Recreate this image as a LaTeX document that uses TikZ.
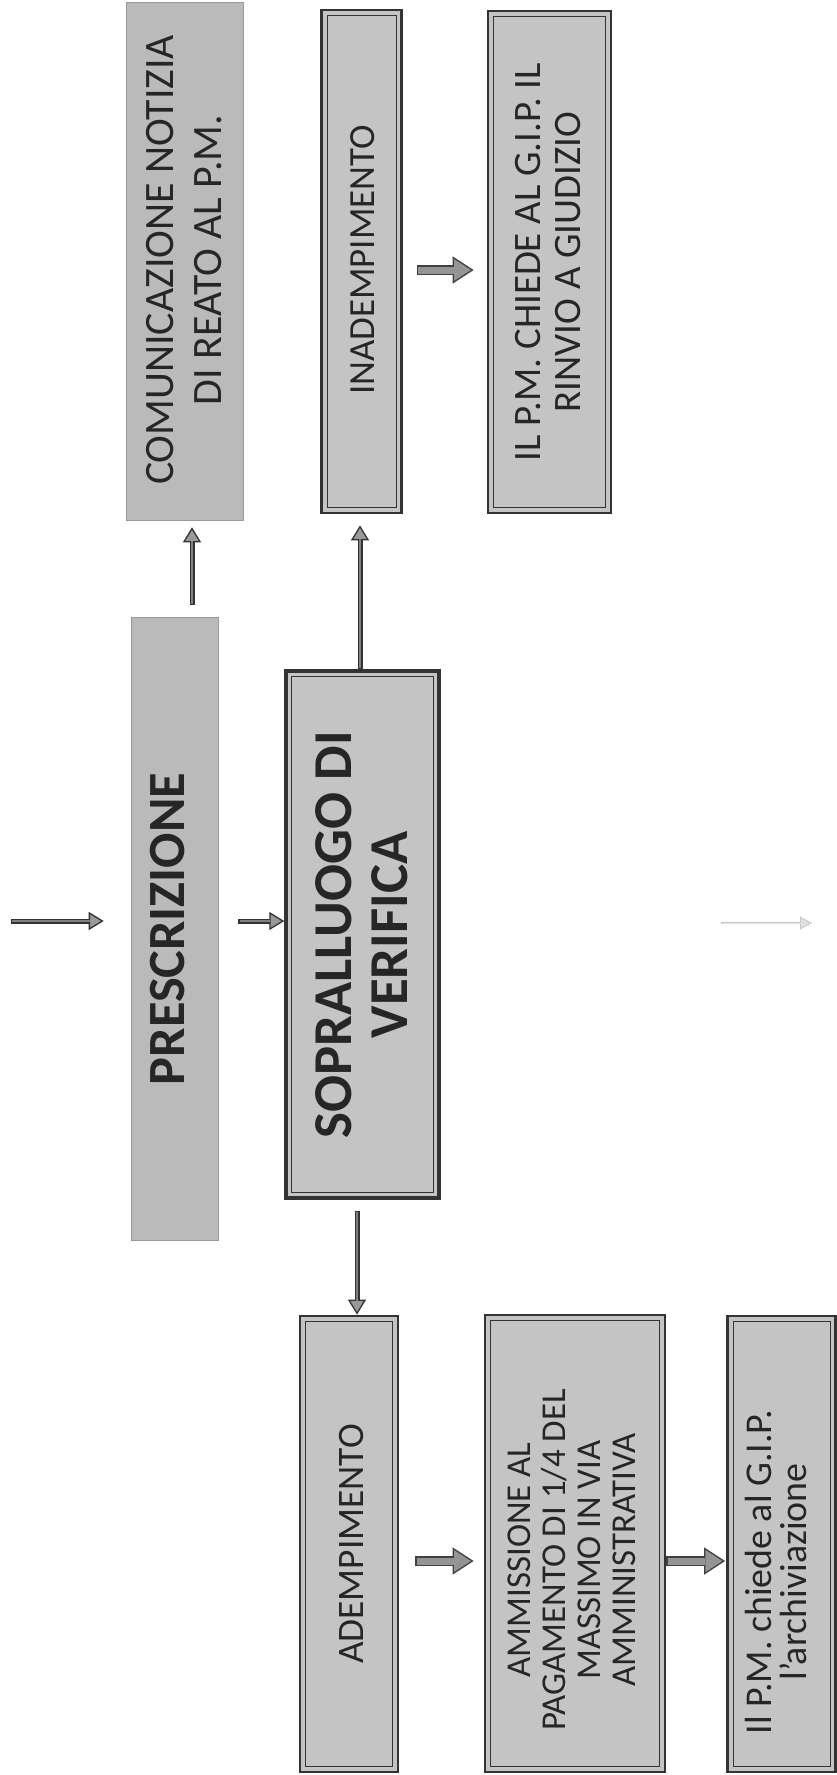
\documentclass[tikz,border=0pt]{standalone}
\usepackage{fontspec}
\setmainfont{Carlito}
\usetikzlibrary{arrows.meta,calc}
\newcommand{\garrow}[6]{%
  \draw[#1out, shorten <=#2, shorten >=#3] #5 -- #6;
  \draw[#1in, shorten <=#2+1.2bp, shorten >=#3+#4-1bp] #5 -- #6;}
\begin{document}
\begin{tikzpicture}[x=1bp,y=-1bp,
  pbox/.style={draw=black!40, line width=0.6bp, fill=black!27, inner sep=0pt},
  dbox/.style={draw=black!80, line width=2.8bp, fill=black!23, inner sep=0pt,
    path picture={\draw[black!80, line width=1bp]
      ([shift={(5.5bp,5.5bp)}]path picture bounding box.south west) rectangle
      ([shift={(-5.5bp,-5.5bp)}]path picture bounding box.north east);}},
  txt/.style={rotate=90, align=center, text=black!85, inner sep=0pt},
  sout/.style={draw=black!80, line width=5bp,
    -{Triangle[length=15bp,width=18bp,fill=black!40,line width=1.3bp]}},
  sin/.style={draw=black!50, line width=1.6bp},
  bout/.style={draw=black!75, line width=10bp,
    -{Triangle[length=21bp,width=27bp,fill=black!42,line width=1.3bp]}},
  bin/.style={draw=black!42, line width=7bp},
  fout/.style={draw=black!22, line width=2.5bp,
    -{Triangle[length=12bp,width=13bp,fill=black!12,line width=0.8bp]}},
  fin/.style={draw=black!10, line width=1bp}
]
\useasboundingbox (0,0) rectangle (837,1775);
\fill[white] (0,0) rectangle (837,1775);

% boxes
\node[pbox, minimum width=117bp, minimum height=518bp] (com) at (185,261) {};
\node[dbox, minimum width=80bp, minimum height=503bp] (inad) at (361.5,261.5) {};
\node[dbox, minimum width=123bp, minimum height=502bp] (ilpm) at (549.5,262) {};
\node[pbox, minimum width=87bp, minimum height=623bp] (presc) at (174.5,928.5) {};
\node[dbox, line width=3.5bp, minimum width=153bp, minimum height=527bp] (sopra) at (362.5,934.5) {};
\node[dbox, minimum width=98bp, minimum height=456bp] (ademp) at (349,1544) {};
\node[dbox, minimum width=180bp, minimum height=457bp] (ammis) at (575,1543.5) {};
\node[dbox, minimum width=108bp, minimum height=456bp] (ilpmch) at (781.5,1544) {};

% texts
\node[txt, font=\fontsize{42}{48}\selectfont] (com-t) at (184,260) {COMUNICAZIONE NOTIZIA\\DI REATO AL P.M.};
\node[txt, font=\fontsize{37}{42}\selectfont] (inad-t) at (363,260) {INADEMPIMENTO};
\node[txt, font=\fontsize{39}{41}\selectfont] (ilpm-t) at (548,262) {IL P.M. CHIEDE AL G.I.P. IL\\RINVIO A GIUDIZIO};
\node[txt, font=\fontsize{52.5}{56}\selectfont\bfseries] (presc-t) at (168,929) {PRESCRIZIONE};
\node[txt, font=\fontsize{55}{56}\selectfont\bfseries] (sopra-t) at (362,935) {SOPRALLUOGO DI\\VERIFICA};
\node[txt, font=\fontsize{37.5}{42}\selectfont] (ademp-t) at (352,1544) {ADEMPIMENTO};
\node[txt, font=\fontsize{35}{35}\selectfont] (ammis-t) at (572,1560) {AMMISSIONE AL\\PAGAMENTO DI 1/4 DEL\\MASSIMO IN VIA\\AMMINISTRATIVA};
\node[txt, font=\fontsize{38}{36}\selectfont] (ilpmch-t) at (776,1572) {Il P.M. chiede al G.I.P.\\l’archiviazione};

% helper coordinates
\coordinate (cA) at (192,0);
\coordinate (cB) at (360,0);
\coordinate (cC) at (357,0);
\coordinate (rD) at (0,270);
\coordinate (rE) at (0,1561);
\coordinate (in0) at (11,921);
\coordinate (f1) at (721,923);
\coordinate (f2) at (812,923);

% connectors
\garrow{s}{12bp}{7bp}{15bp}{(presc.north -| cA)}{(com.south -| cA)}
\garrow{s}{0bp}{11bp}{15bp}{(sopra.north -| cB)}{(inad.south -| cB)}
\garrow{s}{11bp}{0bp}{15bp}{(sopra.south -| cC)}{(ademp.north -| cC)}
\garrow{s}{0bp}{27bp}{15bp}{(in0)}{(presc.west |- in0)}
\garrow{s}{20bp}{0bp}{15bp}{(presc.east |- in0)}{(sopra.west |- in0)}
\garrow{b}{14bp}{13bp}{21bp}{(inad.east |- rD)}{(ilpm.west |- rD)}
\garrow{b}{16bp}{10bp}{21bp}{(ademp.east |- rE)}{(ammis.west |- rE)}
\garrow{b}{0bp}{1bp}{21bp}{(ammis.east |- rE)}{(ilpmch.west |- rE)}
\garrow{f}{0bp}{0bp}{12bp}{(f1)}{(f2)}
\end{tikzpicture}
\end{document}
